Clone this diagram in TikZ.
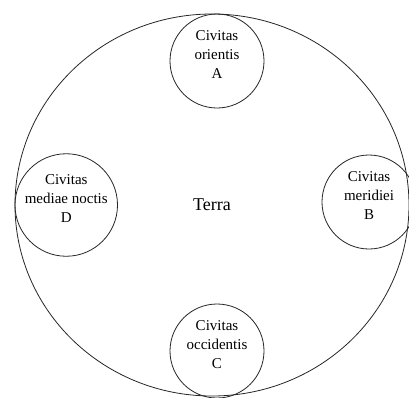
\documentclass[tikz,border=0pt]{standalone}
\usepackage{fontspec}
\setmainfont{Liberation Serif}
\usetikzlibrary{shapes,positioning}

\begin{document}
\begin{tikzpicture}[
    node distance=0pt,
    earth/.style={ellipse, draw=black!85, line width=0.8pt, minimum width=394pt, minimum height=382pt, inner sep=0pt, font=\fontsize{18}{22}\selectfont},
    town/.style={circle, draw=black!85, line width=0.8pt, minimum size=94pt, inner sep=0pt, align=center, font=\fontsize{15}{19}\selectfont}
]
\useasboundingbox (-212pt,-192pt) rectangle (197pt,205pt);

% Earth
\node[earth] (terra) at (0,0) {Terra};

% Towns on the rim
\node[town, below=of terra.north, xshift=5pt] (orientis) {Civitas\\orientis\\A\\[-6pt]};
\node[town, left=-7pt of terra.east, yshift=3pt] (meridiei) {Civitas\\meridiei\\B\\[-6pt]};
\node[town, above=-2pt of terra.south, xshift=5pt] (occidentis) {Civitas\\occidentis\\C\\[-6pt]};
\node[town, right=of terra.west] (noctis) {Civitas\\mediae noctis\\D\\[-6pt]};

\end{tikzpicture}
\end{document}
